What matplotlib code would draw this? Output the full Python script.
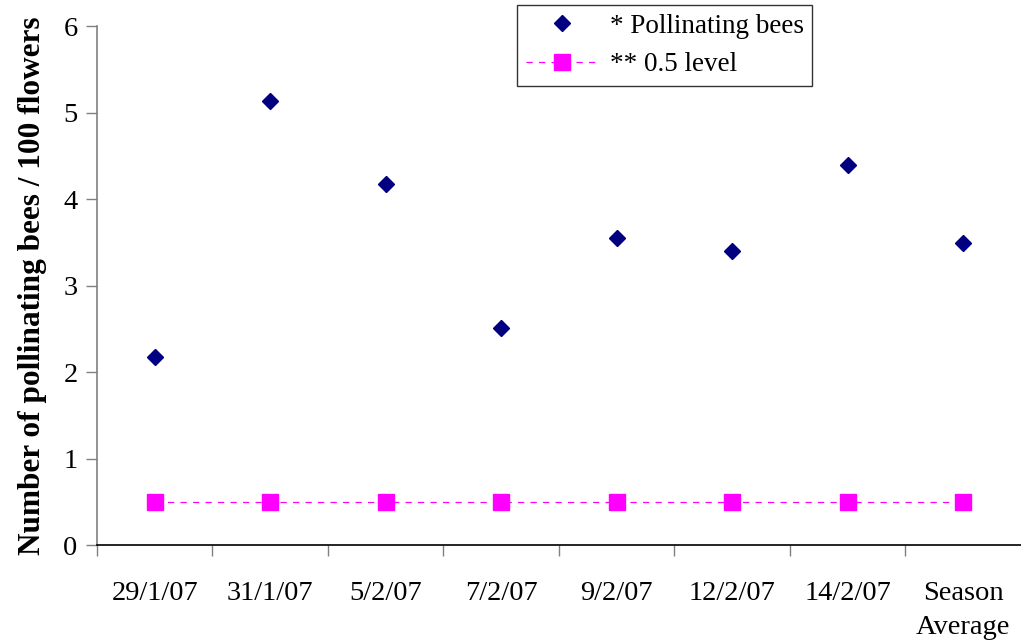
import numpy as np
import matplotlib.pyplot as plt

# categories and values
categories = ['29/1/07', '31/1/07', '5/2/07', '7/2/07', '9/2/07',
              '12/2/07', '14/2/07', 'Season\nAverage']
bees = [2.17, 5.13, 4.17, 2.51, 3.55, 3.40, 4.39, 3.49]
level = [0.5, 0.5, 0.5, 0.5, 0.5, 0.5, 0.5, 0.5]

plt.rcParams['font.family'] = ['Liberation Serif', 'DejaVu Serif']

fig = plt.figure(figsize=(10.21, 6.42), dpi=100)
ax = fig.add_axes([0.095, 0.151, 0.905, 0.8085])

x = np.arange(len(categories))
ax.plot(x, bees, linestyle='none', marker='D', markersize=8.5,
        color='#000080', label='* Pollinating bees')
ax.plot(x, level, linestyle=(0, (5, 5)), linewidth=0.9, marker='s',
        markersize=11, color='#ff00ff', label='** 0.5 level')

ax.set_xlim(-0.5, len(categories) - 0.5)
ax.set_ylim(0, 6)
ax.set_yticks(range(7))
ax.tick_params(axis='y', labelsize=20.5, length=8, width=1, color='#808080', pad=6)

# category labels centred, tick marks at the boundaries
ax.set_xticks(x)
ax.set_xticklabels(categories, fontsize=20.5, linespacing=1.45)
ax.tick_params(axis='x', which='major', length=0, pad=26)
ax.set_xticks(np.arange(len(categories)) - 0.5, minor=True)
ax.tick_params(axis='x', which='minor', length=8, width=1, color='#808080')

for s in ['top', 'right']:
    ax.spines[s].set_visible(False)
ax.spines['left'].set_color('#808080')
ax.spines['left'].set_linewidth(1.2)
ax.spines['bottom'].set_color('black')
ax.spines['bottom'].set_linewidth(1.2)

ax.set_ylabel('Number of pollinating bees / 100 flowers', fontsize=22.5,
              fontweight='bold', labelpad=12)

leg = ax.legend(loc='upper left', bbox_to_anchor=(0.4545, 1.04), fontsize=19.5,
                frameon=True, fancybox=False, edgecolor='black',
                borderaxespad=0, handlelength=2.65, handletextpad=0.45,
                borderpad=0.32, labelspacing=0.5)
leg.get_frame().set_linewidth(1.0)

fig.savefig('out.png', dpi=100)
